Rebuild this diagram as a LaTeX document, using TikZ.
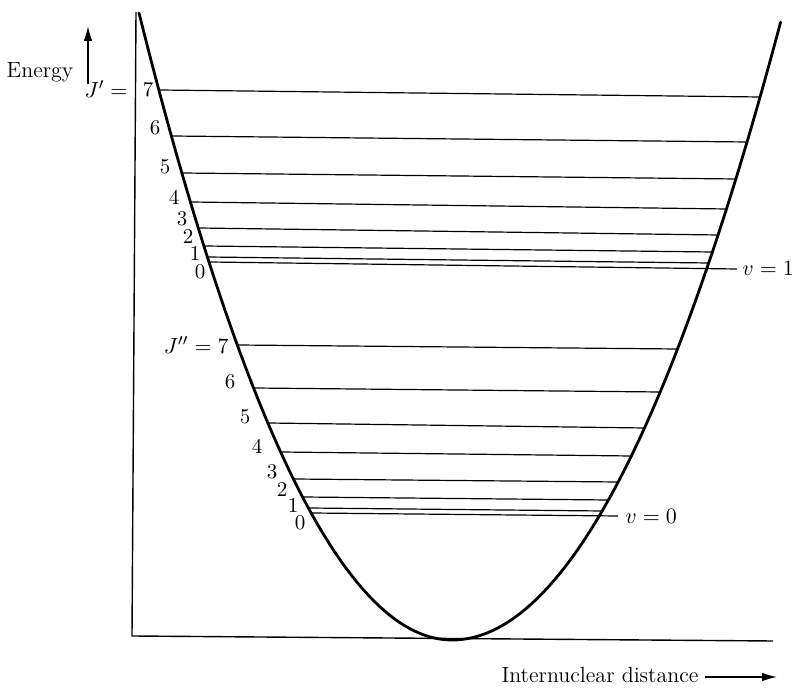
\documentclass[tikz,border=0pt]{standalone}
\usetikzlibrary{arrows.meta}
\tikzset{
    curve/.style={line width=1.4pt, line join=round, line cap=round},
    level/.style={line width=0.6pt},
    axis/.style={line width=0.7pt},
    lbl/.style={inner sep=0pt, font=\fontsize{11}{13}\selectfont},
    num/.style={inner sep=0pt, font=\fontsize{10.5}{12}\selectfont},
    arrow/.style={-{Latex[length=2.6mm, width=1.5mm]}, line width=0.7pt}
}
% branches of the well: x as a function of the height y
\newcommand{\xleft}[1]{452-12.5*sqrt(640-#1)}
\newcommand{\xright}[1]{452+13.22*sqrt(640-#1)}

\begin{document}
\begin{tikzpicture}[x=0.5pt, y=-0.5pt]
    \useasboundingbox (0,0) rectangle (798,688);

    % axes
    \draw[axis] (136,12) -- (132,636) -- (773,641);

    % potential energy curve
    \draw[curve] plot[domain=-25.04:24.86, samples=160]
        ({452+\x*(\x<0 ? 12.5 : 13.22)}, {640-\x*\x});

    % rotational levels of v = 1
    \foreach \yl/\yr in {90/97, 136/142, 173/179, 202/209, 228/235, 246/252, 257/263}
        \draw[level] ({\xleft{\yl}},\yl) -- ({\xright{\yr}},\yr);
    \draw[level] ({\xleft{262}},262) -- (737,269);

    % rotational levels of v = 0
    \foreach \yl/\yr in {345/349, 388/392, 423/428, 452/456, 479/482, 497/500, 508/511}
        \draw[level] ({\xleft{\yl}},\yl) -- ({\xright{\yr}},\yr);
    \draw[level] ({\xleft{513}},513) -- (618,516);

    % labels
    \node[lbl, anchor=east] (jup) at (134,89) {$J' ={}$};
    \node[num] (up7) at (148,90) {7};
    \foreach \j/\x/\y in {6/155/128, 5/165/167, 4/174/197, 3/182/219,
        2/188/237, 1/195/254, 0/200/272}
        \node[num] (up\j) at (\x,\y) {\j};

    \node[lbl, anchor=east] (jlo) at (229,345) {$J'' = 7$};
    \foreach \j/\x/\y in {6/230/382, 5/245/417, 4/257/446, 3/272/472,
        2/282/490, 1/293/506, 0/300/523}
        \node[num] (lo\j) at (\x,\y) {\j};

    \node[lbl, anchor=west] (vone) at (742,268) {$v = 1$};
    \node[lbl, anchor=west] (vzero) at (625,516) {$v = 0$};

    % axis titles
    \node[lbl] (energy) at (40,72) {Energy};
    \coordinate (ebot) at (88,84);
    \coordinate (etop) at (88,26);
    \draw[arrow] (ebot) -- (etop);

    \node[lbl] (dist) at (600,675) {Internuclear distance};
    \coordinate (dend) at (777,677);
    \draw[arrow] (dist.east) ++(6,2) -- (dend);
\end{tikzpicture}
\end{document}
